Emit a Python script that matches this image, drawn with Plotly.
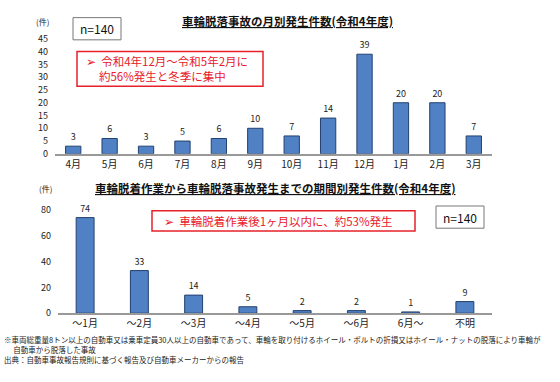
import plotly.graph_objects as go

W, H = 560, 382
FONT = "Noto Sans CJK JP"

# Top chart data
months = ["4月", "5月", "6月", "7月", "8月", "9月", "10月", "11月", "12月", "1月", "2月", "3月"]
month_counts = [3, 6, 3, 5, 6, 10, 7, 14, 39, 20, 20, 7]
top_ticks = [0, 5, 10, 15, 20, 25, 30, 35, 40, 45]

# Bottom chart data
periods = ["～1月", "～2月", "～3月", "～4月", "～5月", "～6月", "6月～", "不明"]
period_counts = [74, 33, 14, 5, 2, 2, 1, 9]
bottom_ticks = [0, 20, 40, 60, 80]

top_title = "車輪脱落事故の月別発生件数(令和4年度)"
bottom_title = "車輪脱着作業から車輪脱落事故発生までの期間別発生件数(令和4年度)"
top_note = "➢  令和4年12月～令和5年2月に<br>     約56%発生と冬季に集中"
bottom_note = "➢  車輪脱着作業後1ヶ月以内に、約53%発生"
n_label = "n=140"
footnotes = [
    "※車両総重量8トン以上の自動車又は乗車定員30人以上の自動車であって、車輪を取り付けるホイール・ボルトの折損又はホイール・ナットの脱落により車輪が",
    "　 自動車から脱落した事故",
    "出典：自動車事故報告規則に基づく報告及び自動車メーカーからの報告",
]

BAR = "#4f81c4"
BAR_LINE = "#23406e"
RED = "#e8202a"


def px(x):
    return x / W


def py(y):
    return 1 - y / H


fig = go.Figure()
fig.add_trace(go.Bar(
    x=months, y=month_counts, xaxis="x", yaxis="y",
    marker=dict(color=BAR, line=dict(color=BAR_LINE, width=1)),
    text=month_counts, textposition="outside", cliponaxis=False,
    textfont=dict(size=9, color="#222", family=FONT),
    width=0.42,
))
fig.add_trace(go.Bar(
    x=periods, y=period_counts, xaxis="x2", yaxis="y2",
    marker=dict(color=BAR, line=dict(color=BAR_LINE, width=1)),
    text=period_counts, textposition="outside", cliponaxis=False,
    textfont=dict(size=9, color="#222", family=FONT),
    width=0.33,
))

axis_common = dict(showgrid=False, zeroline=False, fixedrange=True)

fig.update_layout(
    width=W, height=H,
    margin=dict(l=0, r=0, t=0, b=0),
    paper_bgcolor="white", plot_bgcolor="white",
    showlegend=False,
    font=dict(family=FONT, color="#222"),
    xaxis=dict(domain=[px(55), px(492)], anchor="y", showline=True, linecolor="#999",
               linewidth=1.5, ticks="", tickfont=dict(size=10, color="#222"), **axis_common),
    yaxis=dict(domain=[py(152), py(33)], range=[0, 45], anchor="x", tickvals=top_ticks,
               showline=False, ticks="", ticklabelstandoff=6,
               tickfont=dict(size=9, color="#222"), **axis_common),
    xaxis2=dict(domain=[px(58), px(492)], anchor="y2", showline=True, linecolor="#999",
                linewidth=1.5, ticks="", tickfont=dict(size=10, color="#222"), **axis_common),
    yaxis2=dict(domain=[py(317), py(210)], range=[0, 80], anchor="x2", tickvals=bottom_ticks,
                showline=False, ticks="", ticklabelstandoff=6,
                tickfont=dict(size=9, color="#222"), **axis_common),
)

shapes = [
    # n=140 boxes
    dict(type="rect", xref="paper", yref="paper", x0=px(73), x1=px(121), y0=py(34), y1=py(11),
         line=dict(color="#777", width=1), fillcolor="white"),
    dict(type="rect", xref="paper", yref="paper", x0=px(436), x1=px(484), y0=py(229), y1=py(206),
         line=dict(color="#777", width=1), fillcolor="white"),
    # red note boxes
    dict(type="rect", xref="paper", yref="paper", x0=px(77), x1=px(263), y0=py(82), y1=py(46),
         line=dict(color=RED, width=1.5), fillcolor="white"),
    dict(type="rect", xref="paper", yref="paper", x0=px(152), x1=px(415), y0=py(232), y1=py(211),
         line=dict(color=RED, width=1.5), fillcolor="white"),
]
fig.update_layout(shapes=shapes)

ann = []
ann.append(dict(x=px(287), y=py(14), text=f"<b><u>{top_title}</u></b>", showarrow=False,
                xref="paper", yref="paper", xanchor="center", yanchor="middle",
                font=dict(size=11.5, color="#111")))
ann.append(dict(x=px(275), y=py(187), text=f"<b><u>{bottom_title}</u></b>", showarrow=False,
                xref="paper", yref="paper", xanchor="center", yanchor="middle",
                font=dict(size=11.5, color="#111")))
ann.append(dict(x=px(97), y=py(22.5), text=n_label, showarrow=False, xref="paper", yref="paper",
                xanchor="center", yanchor="middle", font=dict(size=12, color="#111")))
ann.append(dict(x=px(460), y=py(217.5), text=n_label, showarrow=False, xref="paper", yref="paper",
                xanchor="center", yanchor="middle", font=dict(size=12, color="#111")))
ann.append(dict(x=px(84), y=py(64), text=top_note, showarrow=False, xref="paper", yref="paper",
                xanchor="left", yanchor="middle", align="left",
                font=dict(size=11.5, color=RED)))
ann.append(dict(x=px(162), y=py(221.5), text=bottom_note, showarrow=False, xref="paper", yref="paper",
                xanchor="left", yanchor="middle", align="left",
                font=dict(size=11.5, color=RED)))
ann.append(dict(x=px(42), y=py(15), text="(件)", showarrow=False, xref="paper", yref="paper",
                xanchor="center", yanchor="middle", font=dict(size=8, color="#222")))
ann.append(dict(x=px(45), y=py(188), text="(件)", showarrow=False, xref="paper", yref="paper",
                xanchor="center", yanchor="middle", font=dict(size=8, color="#222")))
ann.append(dict(x=px(2), y=py(355), text="<br>".join(footnotes), showarrow=False,
                xref="paper", yref="paper", xanchor="left", yanchor="middle", align="left",
                font=dict(size=7.5, color="#222")))
fig.update_layout(annotations=ann)

fig.write_html("out.html", config={"displayModeBar": False},
               post_script="document.body.style.margin='0';document.body.style.overflow='hidden';")
